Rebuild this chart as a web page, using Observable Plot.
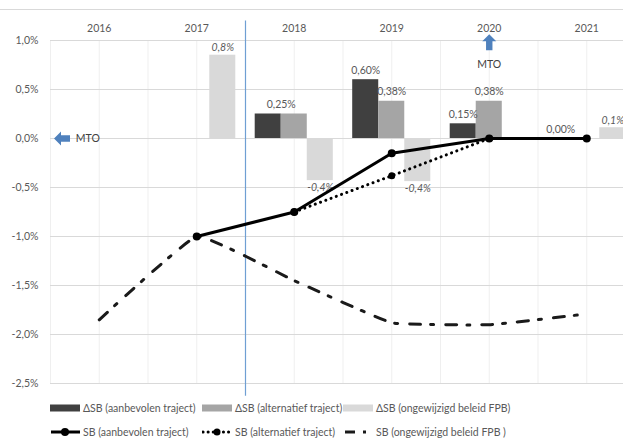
<!DOCTYPE html>
<html>
<head>
<meta charset="utf-8">
<script src="https://cdn.jsdelivr.net/npm/d3@7"></script>
<script src="https://cdn.jsdelivr.net/npm/@observablehq/plot@0.6"></script>
<style>
  html, body { margin: 0; padding: 0; background: #fff; }
  body { width: 623px; height: 440px; overflow: hidden; font-family: Lato, "Liberation Sans", sans-serif; }
  #wrap { position: relative; width: 623px; }
  #topline { position: absolute; left: 0; top: 9px; width: 623px; border-top: 1px solid #d9d9d9; }
  #legend { position: relative; height: 40px; font-size: 10.5px; color: #595959; }
  .item { position: absolute; display: flex; align-items: center; white-space: nowrap; }
  .item svg { margin-right: 3px; }
</style>
</head>
<body>
<div id="wrap"><div id="topline"></div><div id="chart"></div></div>
<div id="legend"></div>
<script>
// ---- data ----
const years = [2016, 2017, 2018, 2019, 2020, 2021];
const dSBaanbevolen   = [null, null, 0.25, 0.60, 0.15, 0.00];
const dSBalternatief  = [null, null, 0.25, 0.38, 0.38, null];
const dSBongewijzigd  = [null, 0.85, -0.43, -0.44, null, 0.11];
const lblAanbevolen   = ["", "", "0,25%", "0,60%", "0,15%", "0,00%"];
const lblAlternatief  = ["", "", "", "0,38%", "0,38%", ""];
const lblOngewijzigd  = ["", "0,8%", "-0,4%", "-0,4%", "", "0,1%"];
const SBaanbevolen    = [null, -1.0, -0.75, -0.15, 0.0, 0.0];
const SBalternatief   = [null, null, -0.75, -0.38, 0.0, null];
const SBongewijzigd   = [-1.85, -1.0, -1.45, -1.88, -1.90, -1.79];
const yTicks = [-2.5, -2.0, -1.5, -1.0, -0.5, 0.0, 0.5, 1.0];
const seriesNames = ["ΔSB (aanbevolen traject)", "ΔSB (alternatief traject)", "ΔSB (ongewijzigd beleid FPB)"];
const lineNames = ["SB (aanbevolen traject)", "SB (alternatief traject)", "SB (ongewijzigd beleid FPB )"];
const barColors = ["#404040", "#a5a5a5", "#d9d9d9"];
const mtoLabel = "MTO";

// ---- build tables ----
const w = 0.267; // bar width in year units
const barSeries = [dSBaanbevolen, dSBalternatief, dSBongewijzigd];
const labelSeries = [lblAanbevolen, lblAlternatief, lblOngewijzigd];
const bars = [];
barSeries.forEach((arr, k) => arr.forEach((v, i) => {
  if (v == null) return;
  const c = years[i] + (k - 1) * w;
  bars.push({year: years[i], k, value: v, x1: c - w / 2, x2: c + w / 2, xc: c, label: labelSeries[k][i], color: barColors[k]});
}));
// a shared label when the first two bars are equal
bars.forEach(b => {
  if (b.k === 0) {
    const i = years.indexOf(b.year);
    if (dSBalternatief[i] != null && dSBalternatief[i] === b.value) b.xc = b.x2;
  }
});
const lineTable = (arr, name) => arr.map((v, i) => ({year: years[i], value: v, name})).filter(d => d.value != null);
const lA = lineTable(SBaanbevolen, lineNames[0]);
const lB = lineTable(SBalternatief, lineNames[1]);
const lC = lineTable(SBongewijzigd, lineNames[2]);

const fmtY = d => d.toFixed(1).replace(".", ",") + "%";
const textColor = "#595959";

const blockArrow = {
  draw(ctx, l, r) {
    const hw = 7, sw = 3.2, hl = 7;
    ctx.moveTo(-sw, 0);
    ctx.lineTo(-sw, -(l - hl));
    ctx.lineTo(-hw, -(l - hl));
    ctx.lineTo(0, -l);
    ctx.lineTo(hw, -(l - hl));
    ctx.lineTo(sw, -(l - hl));
    ctx.lineTo(sw, 0);
    ctx.closePath();
  }
};

const halfYears = d3.range(years[0] - 0.5, years[years.length - 1] + 0.51, 0.5);

const chart = Plot.plot({
  width: 623,
  height: 400,
  marginLeft: 50,
  marginRight: 0,
  marginTop: 40,
  marginBottom: 17,
  style: {fontFamily: "Lato, 'Liberation Sans', sans-serif", fontSize: "10.5px", color: textColor, background: "transparent"},
  x: {type: "linear", domain: [years[0] - 0.5, years[years.length - 1] + 0.5], range: [50, 635]},
  y: {domain: [-2.5, 1.0]},
  marks: [
    Plot.ruleX(halfYears, {y1: 1.0, y2: -2.5, stroke: "#efefef", strokeWidth: 1}),
    Plot.ruleY(yTicks, {x1: years[0] - 0.5, x2: years[years.length - 1] + 0.5, stroke: "#d9d9d9", strokeWidth: 1}),
    Plot.axisX({anchor: "top", ticks: years, tickFormat: d => String(d), tickSize: 0, tickPadding: 9, fill: textColor, fontSize: 10.5}),
    Plot.axisY({ticks: yTicks, tickFormat: fmtY, tickSize: 0, tickPadding: 12, fill: textColor, fontSize: 10.5}),
    Plot.rectY(bars, {x1: "x1", x2: "x2", y1: 0, y2: "value", fill: "color"}),
    Plot.ruleX([years[1] + 0.5], {y1: 1.2, y2: -2.63, stroke: "#6f9fd3", strokeWidth: 1.2}),
    // data labels
    Plot.text(bars.filter(b => b.k < 2 && b.label), {x: "xc", y: "value", text: "label", lineAnchor: "bottom", dy: -6, fill: textColor, fontSize: 10.5}),
    Plot.text(bars.filter(b => b.k === 2 && b.value >= 0), {x: "xc", y: "value", text: "label", lineAnchor: "bottom", dy: -4, fill: textColor, fontStyle: "italic", fontSize: 10.5}),
    Plot.text(bars.filter(b => b.k === 2 && b.value < 0), {x: "xc", y: "value", text: "label", lineAnchor: "top", dy: 3, fill: textColor, fontStyle: "italic", fontSize: 10.5}),
    // lines
    Plot.line(lC, {x: "year", y: "value", stroke: "#1a1a1a", strokeWidth: 3, strokeDasharray: "11,10,3,12", curve: "cardinal", tension: 0.7}),
    Plot.line(lB, {x: "year", y: "value", stroke: "#000", strokeWidth: 3, strokeDasharray: "0.1,5.5", strokeLinecap: "round"}),
    Plot.dot(lB, {x: "year", y: "value", r: 3.5, fill: "#000"}),
    Plot.line(lA, {x: "year", y: "value", stroke: "#000", strokeWidth: 3}),
    Plot.dot(lA, {x: "year", y: "value", r: 4, fill: "#000"}),
    // MTO annotations
    Plot.vector([{x: years[0] - 0.3, y: 0}], {x: "x", y: "y", length: 16, rotate: -90, anchor: "start", shape: blockArrow, fill: "#4f81bd", stroke: "none"}),
    Plot.text([{x: years[0] - 0.24, y: 0}], {x: "x", y: "y", text: () => mtoLabel, textAnchor: "start", fill: "#404040", fontSize: 10.5}),
    Plot.vector([{x: years[4], y: 0.9}], {x: "x", y: "y", length: 16, rotate: 0, anchor: "start", shape: blockArrow, fill: "#4f81bd", stroke: "none"}),
    Plot.text([{x: years[4], y: 0.755}], {x: "x", y: "y", text: () => mtoLabel, fill: "#404040", fontSize: 10.5})
  ]
});
document.getElementById("chart").appendChild(chart);

// ---- legend ----
const legend = document.getElementById("legend");
const colX = [50, 202, 343];
const ns = "http://www.w3.org/2000/svg";
function addItem(x, y, svgInner, label) {
  const div = document.createElement("div");
  div.className = "item";
  div.style.left = x + "px";
  div.style.top = y + "px";
  div.innerHTML = `<svg width="30" height="12" xmlns="${ns}">${svgInner}</svg><span>${label}</span>`;
  legend.appendChild(div);
}
seriesNames.forEach((n, k) => addItem(colX[k], 2, `<rect x="0" y="2.5" width="30" height="7" fill="${barColors[k]}"/>`, n));
addItem(colX[0], 26, `<line x1="1" y1="6" x2="30" y2="6" stroke="#000" stroke-width="3"/><circle cx="15" cy="6" r="4" fill="#000"/>`, lineNames[0]);
addItem(colX[1], 26, `<line x1="1" y1="6" x2="30" y2="6" stroke="#000" stroke-width="3" stroke-dasharray="0.1,5" stroke-linecap="round"/><circle cx="15" cy="6" r="3.5" fill="#000"/>`, lineNames[1]);
addItem(colX[2], 26, `<line x1="2" y1="6" x2="12" y2="6" stroke="#1a1a1a" stroke-width="3"/><rect x="20" y="4.5" width="3" height="3" fill="#1a1a1a"/>`, lineNames[2]);
</script>
</body>
</html>
